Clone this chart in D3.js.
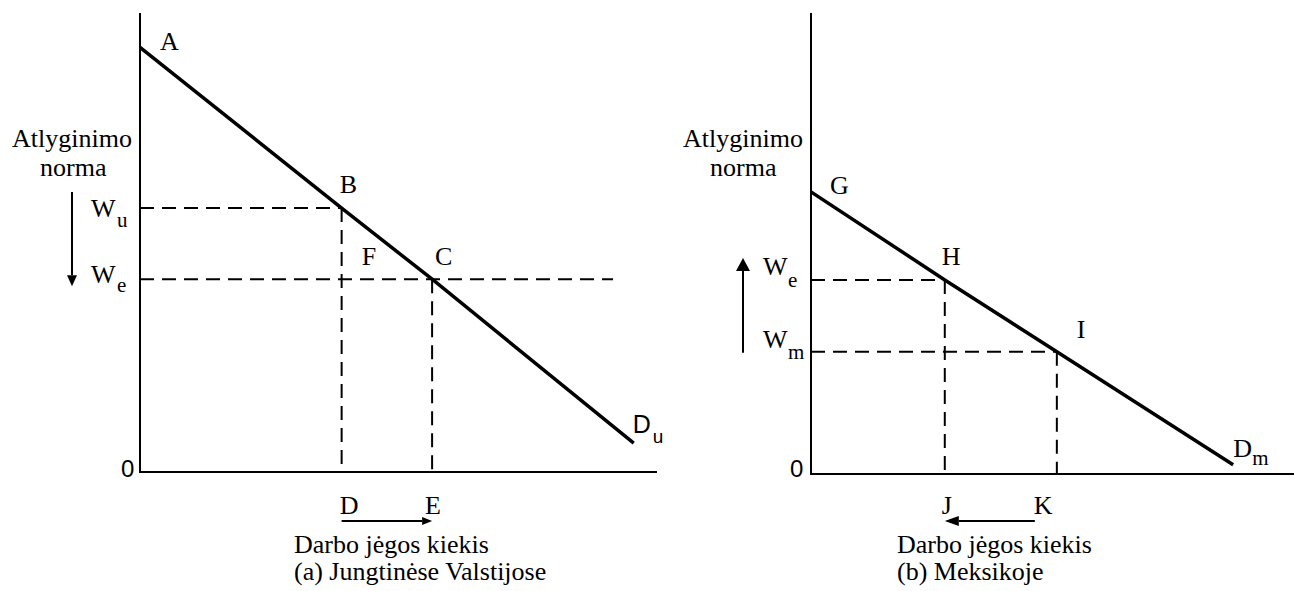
<!DOCTYPE html>
<html>
<head>
<meta charset="utf-8">
<script src="https://cdn.jsdelivr.net/npm/d3@7"></script>
<style>
  body { margin: 0; background: #fff; }
  svg { display: block; }
</style>
</head>
<body>
<div id="chart"></div>
<script>
// (a) US demand curve: A, B, C and the curve end Du
var usPoints = ["A", "B", "C", "Du"];
var usQty = [0, 3.9, 5.65, 9.55];
var usWage = [9.25, 5.75, 4.2, 0.63];
// level where the We dashed line stops on the right
var usWeEnd = 9.15;

// (b) Mexico demand curve: G, H, I and the curve end Dm
var mxPoints = ["G", "H", "I", "Dm"];
var mxQty = [0, 2.77, 5.09, 8.74];
var mxWage = [6.12, 4.21, 2.65, 0.2];

var yTitle = ["Atlyginimo", "norma"];
var xTitle = "Darbo jėgos kiekis";
var panelTitles = ["(a) Jungtinėse Valstijose", "(b) Meksikoje"];

var SERIF = "'Liberation Serif', 'Times New Roman', serif";
var SANS = "'Liberation Sans', Arial, sans-serif";

var svg = d3.select("#chart").append("svg")
  .attr("width", 1294)
  .attr("height", 591);

function serif(x, y, txt, size) {
  svg.append("text")
    .attr("x", x)
    .attr("y", y)
    .style("font-family", SERIF)
    .style("font-size", (size || 26) + "px")
    .attr("fill", "#000")
    .text(txt);
}

function sans(x, y, txt, size) {
  svg.append("text")
    .attr("x", x)
    .attr("y", y)
    .style("font-family", SANS)
    .style("font-size", size + "px")
    .attr("fill", "#000")
    .text(txt);
}

function line(x1, y1, x2, y2, w, dash) {
  var l = svg.append("line")
    .attr("x1", x1).attr("y1", y1)
    .attr("x2", x2).attr("y2", y2)
    .attr("stroke", "#000")
    .attr("stroke-width", w);
  if (dash) l.attr("stroke-dasharray", dash);
  return l;
}

// arrow from (x1,y1) to (x2,y2), head drawn at the end
function arrow(x1, y1, x2, y2, headLen, headW) {
  var dx = x2 - x1, dy = y2 - y1;
  var len = Math.sqrt(dx * dx + dy * dy);
  var ux = dx / len, uy = dy / len;
  var bx = x2 - ux * headLen, by = y2 - uy * headLen;
  line(x1, y1, bx, by, 2);
  svg.append("path")
    .attr("d", "M" + x2 + "," + y2 +
      "L" + (bx - uy * headW / 2) + "," + (by + ux * headW / 2) +
      "L" + (bx + uy * headW / 2) + "," + (by - ux * headW / 2) + "Z")
    .attr("fill", "#000");
}

var DASH = "14,8";

// ---------- (a) Jungtinėse Valstijose ----------
var xa = d3.scaleLinear().domain([0, 10]).range([140, 657]);
var ya = d3.scaleLinear().domain([0, 10]).range([472, 13]);

// dashed guides
line(xa(0), ya(usWage[1]), xa(usQty[1]), ya(usWage[1]), 2, DASH);
line(xa(0), ya(usWage[2]), xa(usWeEnd), ya(usWage[2]), 2, DASH);
line(xa(usQty[1]), ya(usWage[1]), xa(usQty[1]), ya(0), 2, DASH);
line(xa(usQty[2]), ya(usWage[2]), xa(usQty[2]), ya(0), 2, DASH);

// axes
line(xa(0), ya(10), xa(0), ya(0) + 1, 2);
line(xa(0), ya(0), xa(10), ya(0), 2);

// demand curve
svg.append("path")
  .datum(d3.zip(usQty, usWage))
  .attr("d", d3.line()
    .x(function(d) { return xa(d[0]); })
    .y(function(d) { return ya(d[1]); }))
  .attr("fill", "none")
  .attr("stroke", "#000")
  .attr("stroke-width", 3.5);

// point labels
serif(xa(usQty[0]) + 20, ya(usWage[0]) + 3, usPoints[0]);
serif(xa(usQty[1]) - 2, ya(usWage[1]) - 15, usPoints[1]);
serif(xa(usQty[2]) + 3, ya(usWage[2]) - 14, usPoints[2]);
serif(xa(usQty[1]) + 20, ya(usWage[2]) - 14, "F");
sans(xa(usQty[3]) - 1, ya(usWage[3]) - 10, "D", 25);
sans(xa(usQty[3]) + 19, ya(usWage[3]), "u", 19);

// y axis labels
serif(12, 147, yTitle[0]);
serif(40, 176, yTitle[1]);
serif(91, ya(usWage[1]) + 9, "W");
serif(117, ya(usWage[1]) + 19, "u", 21);
serif(91, ya(usWage[2]) + 4, "W");
serif(117, ya(usWage[2]) + 13, "e", 21);
arrow(72, ya(usWage[1]) - 16, 72, ya(usWage[2]) + 7, 11, 10);
sans(xa(0) - 19, ya(0) + 5, "0", 24);

// x axis labels
serif(xa(usQty[1]) - 2, 514, "D");
serif(xa(usQty[2]) - 7, 514, "E");
arrow(xa(usQty[1]), 521, xa(usQty[2]), 521, 10, 8);
serif(294, 553, xTitle);
serif(294, 580, panelTitles[0]);

// ---------- (b) Meksikoje ----------
var xb = d3.scaleLinear().domain([0, 10]).range([811, 1294]);
var yb = d3.scaleLinear().domain([0, 10]).range([474, 13]);

line(xb(0), yb(mxWage[1]), xb(mxQty[1]), yb(mxWage[1]), 2, DASH);
line(xb(0), yb(mxWage[2]), xb(mxQty[2]), yb(mxWage[2]), 2, DASH);
line(xb(mxQty[1]), yb(mxWage[1]), xb(mxQty[1]), yb(0), 2, DASH);
line(xb(mxQty[2]), yb(mxWage[2]), xb(mxQty[2]), yb(0), 2, DASH);

line(xb(0), yb(10), xb(0), yb(0) + 1, 2);
line(xb(0), yb(0), xb(10), yb(0), 2);

svg.append("path")
  .datum(d3.zip(mxQty, mxWage))
  .attr("d", d3.line()
    .x(function(d) { return xb(d[0]); })
    .y(function(d) { return yb(d[1]); }))
  .attr("fill", "none")
  .attr("stroke", "#000")
  .attr("stroke-width", 3.5);

serif(xb(mxQty[0]) + 19, yb(mxWage[0]) + 2, mxPoints[0]);
serif(xb(mxQty[1]) - 3, yb(mxWage[1]) - 15, mxPoints[1]);
serif(xb(mxQty[2]) + 20, yb(mxWage[2]) - 14, mxPoints[2]);
serif(xb(mxQty[3]), yb(mxWage[3]) - 8, "D");
serif(xb(mxQty[3]) + 19, yb(mxWage[3]), "m", 21);

serif(683, 147, yTitle[0]);
serif(710, 176, yTitle[1]);
serif(763, yb(mxWage[1]) - 5, "W");
serif(788, yb(mxWage[1]) + 7, "e", 21);
serif(763, yb(mxWage[2]) - 4, "W");
serif(788, yb(mxWage[2]) + 7, "m", 21);
arrow(743, yb(mxWage[2]) + 1, 743, yb(mxWage[1]) - 22, 13, 14);
sans(xb(0) - 21, yb(0) + 3, "0", 24);

serif(xb(mxQty[1]) - 3, 514, "J");
serif(xb(mxQty[2]) - 23, 514, "K");
arrow(xb(mxQty[2]) - 22, 521, xb(mxQty[1]), 521, 14, 10);
serif(897, 553, xTitle);
serif(897, 580, panelTitles[1]);
</script>
</body>
</html>
